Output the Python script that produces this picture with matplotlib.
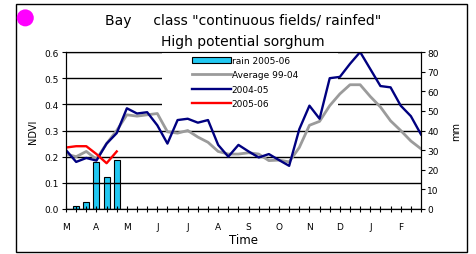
import matplotlib
matplotlib.use('Agg')
import matplotlib.pyplot as plt
from matplotlib.patches import Rectangle, Ellipse

# months of the season, one label every 3 dekads
months = ['M', 'A', 'M', 'J', 'J', 'A', 'S', 'O', 'N', 'D', 'J', 'F']

# NDVI per dekad (March dekad 1 .. February dekad 3)
ndviAvg = [0.21, 0.20, 0.22, 0.19, 0.25, 0.30, 0.36, 0.355, 0.36, 0.365,
           0.295, 0.29, 0.30, 0.275, 0.255, 0.22, 0.21, 0.21, 0.215, 0.21,
           0.185, 0.187, 0.18, 0.235, 0.32, 0.335, 0.395, 0.44, 0.475, 0.475,
           0.43, 0.39, 0.337, 0.30, 0.26, 0.23]
ndvi0405 = [0.225, 0.18, 0.195, 0.185, 0.25, 0.29, 0.385, 0.365, 0.37, 0.32,
            0.25, 0.34, 0.345, 0.33, 0.34, 0.245, 0.20, 0.245, 0.22, 0.197,
            0.21, 0.187, 0.165, 0.305, 0.395, 0.345, 0.50, 0.505, 0.555, 0.60,
            0.535, 0.47, 0.465, 0.395, 0.355, 0.285]
ndvi0506 = [0.235, 0.24, 0.24, 0.21, 0.175, 0.22]

# rain in mm per dekad, season 2005-06
rain0506 = [0, 1.5, 3.7, 24, 16.2, 24.8]

dekads = list(range(len(ndviAvg)))
tickLabels = []
for d in dekads:
    if d % 3 == 0:
        tickLabels.append(months[d // 3])
    else:
        tickLabels.append('')

plt.rcParams['font.family'] = 'DejaVu Sans'

fig = plt.figure(figsize=(4.77, 2.55), dpi=100)

# outer frame and the magenta dot
fig.patches.append(Rectangle((0.0335, 0.008), 0.9455, 0.972, transform=fig.transFigure,
                             fill=False, edgecolor='black', linewidth=1.0))
fig.patches.append(Ellipse((0.053, 0.926), 17 / 477, 17 / 255, transform=fig.transFigure,
                           facecolor='#ff00ff', edgecolor='none'))

fig.text(0.509, 0.917, 'Bay     class "continuous fields/ rainfed"', ha='center', va='center', fontsize=10)
fig.text(0.509, 0.835, 'High potential sorghum', ha='center', va='center', fontsize=10)

ax = fig.add_axes([0.1384, 0.1765, 0.7442, 0.6155])
ax2 = ax.twinx()
ax.set_zorder(ax2.get_zorder() + 1)
ax.patch.set_visible(False)

bars = ax2.bar(range(len(rain0506)), rain0506, width=0.6, color='#22c8f2',
               edgecolor='black', linewidth=0.8, label='rain 2005-06')
ax2.set_ylim(0, 80)
ax2.set_yticks(range(0, 81, 10))
ax2.tick_params(axis='y', direction='out', length=3, width=0.8, labelsize=6.5, pad=1.5)
ax2.set_ylabel('mm', fontsize=7, labelpad=9)

lAvg, = ax.plot(dekads, ndviAvg, color='#9b9b9b', linewidth=2.0, label='Average 99-04')
l0405, = ax.plot(dekads, ndvi0405, color='#000080', linewidth=1.7, label='2004-05')
l0506, = ax.plot(range(len(ndvi0506)), ndvi0506, color='#ff0000', linewidth=1.7, label='2005-06')

ax.set_xlim(0, 35)
ax.set_ylim(0, 0.6)
yTicks = [0.0, 0.1, 0.2, 0.3, 0.4, 0.5, 0.6]
ax.set_yticks(yTicks)
ax.set_yticklabels(['%.1f' % v for v in yTicks])
ax.set_xticks(dekads)
ax.set_xticklabels(tickLabels)
ax.tick_params(axis='x', direction='inout', length=5, width=0.8, labelsize=6.5, pad=7)
ax.tick_params(axis='y', direction='out', length=3, width=0.8, labelsize=6.5, pad=2.5)
ax.set_axisbelow(True)
ax.yaxis.grid(True, color='black', linewidth=1.0)
ax.set_xlabel('Time', fontsize=8.5, labelpad=1.5)
ax.set_ylabel('NDVI', fontsize=7, labelpad=4)

for a in [ax, ax2]:
    for s in a.spines.values():
        s.set_color('black')
        s.set_linewidth(0.8)

# white box behind the legend hides the gridlines there
ax.add_patch(Rectangle((0.27, 0.63), 0.496, 0.37, transform=ax.transAxes,
                       facecolor='white', edgecolor='none', zorder=1.5))

leg = ax.legend(handles=[bars, lAvg, l0405, l0506], loc='upper left',
                bbox_to_anchor=(0.355, 0.975), frameon=False,
                borderaxespad=0, borderpad=0, fontsize=6.5, handlelength=4.3,
                handletextpad=0.1, labelspacing=0.6)
leg.set_zorder(1.6)

fig.savefig('out.png', dpi=100)
print("done")
